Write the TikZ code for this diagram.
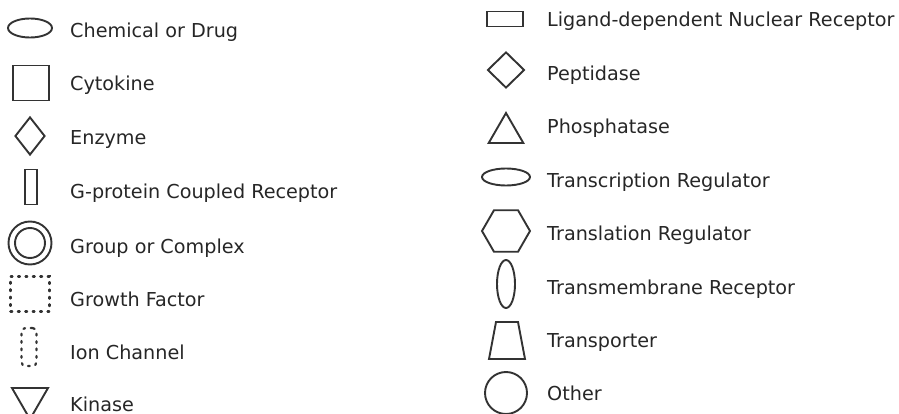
\documentclass[tikz,border=0pt]{standalone}
\usepackage{fontspec}
\setmainfont{DejaVu Sans}
\usetikzlibrary{shapes.geometric}
\definecolor{ink}{HTML}{333333}
\definecolor{txt}{HTML}{262626}
\tikzset{
  icon/.style={draw=ink, line width=1.9pt, inner sep=0pt, fill=none},
  lbl/.style={anchor=base west, inner sep=0pt, text=txt, font=\fontsize{19.2}{21}\selectfont},
  dotline/.style={dash pattern=on 1.8pt off 5.6pt, line cap=round, line width=2.2pt},
}
\begin{document}
\begin{tikzpicture}[x=1pt, y=-1pt]
\useasboundingbox (0,0) rectangle (899,414);

% left column: icons
\node[icon, ellipse, minimum width=44pt, minimum height=19pt] (chem) at (30,28) {};
\node[icon, rectangle, minimum width=36pt, minimum height=35pt] (cyto) at (31,83) {};
\node[icon, diamond, minimum width=30pt, minimum height=38pt] (enz) at (30,136) {};
\node[icon, rectangle, minimum width=12pt, minimum height=35pt] (gpcr) at (31,187) {};
\node[icon, circle, minimum size=43pt] (grp) at (30,243) {};
\node[icon, circle, minimum size=30pt] (grpin) at (30,243) {};
\node[icon, dotline, rectangle, minimum width=39pt, minimum height=35pt] (gf) at (30,294) {};
\node[icon, dotline, rectangle, rounded corners=4pt, minimum width=15pt, minimum height=38pt] (ion) at (29,347) {};
\node[icon, regular polygon, regular polygon sides=3, shape border rotate=180, minimum size=41.6pt] (kin) at (30,398.4) {};

% left column: labels
\node[lbl] (tchem) at (70,37.5) {Chemical or Drug};
\node[lbl] (tcyto) at (70,91) {Cytokine};
\node[lbl] (tenz) at (70,145) {Enzyme};
\node[lbl] (tgpcr) at (70,198) {G-protein Coupled Receptor};
\node[lbl] (tgrp) at (70,253) {Group or Complex};
\node[lbl] (tgf) at (70,306) {Growth Factor};
\node[lbl] (tion) at (70,359) {Ion Channel};
\node[lbl] (tkin) at (70,411) {Kinase};

% right column: icons
\node[icon, rectangle, minimum width=36pt, minimum height=15pt] (ldnr) at (505,19) {};
\node[icon, diamond, minimum width=37pt, minimum height=36pt] (pep) at (506,70) {};
\node[icon, regular polygon, regular polygon sides=3, minimum size=40pt] (phos) at (506,133) {};
\node[icon, ellipse, minimum width=48pt, minimum height=17pt] (trreg) at (506,177) {};
\node[icon, regular polygon, regular polygon sides=6, minimum size=48pt] (tlreg) at (506,231) {};
\node[icon, ellipse, minimum width=18pt, minimum height=48pt] (tmr) at (506,284) {};
% transporter: trapezoid drawn around its centre
\coordinate (trans) at (507,340.5);
\draw[draw=ink, line width=1.9pt, line join=miter]
  ([shift={(-18,18.5)}]trans) -- ([shift={(18,18.5)}]trans)
  -- ([shift={(11,-18.5)}]trans) -- ([shift={(-11,-18.5)}]trans) -- cycle;
\node[icon, circle, minimum size=42pt] (oth) at (506,393) {};

% right column: labels
\node[lbl] (tldnr) at (547,27) {Ligand-dependent Nuclear Receptor};
\node[lbl] (tpep) at (547,80.4) {Peptidase};
\node[lbl] (tphos) at (547,133.8) {Phosphatase};
\node[lbl] (ttrreg) at (547,187.2) {Transcription Regulator};
\node[lbl] (ttlreg) at (547,240.6) {Translation Regulator};
\node[lbl] (ttmr) at (547,294) {Transmembrane Receptor};
\node[lbl] (ttrans) at (547,347.4) {Transporter};
\node[lbl] (toth) at (547,400.8) {Other};
\end{tikzpicture}
\end{document}
